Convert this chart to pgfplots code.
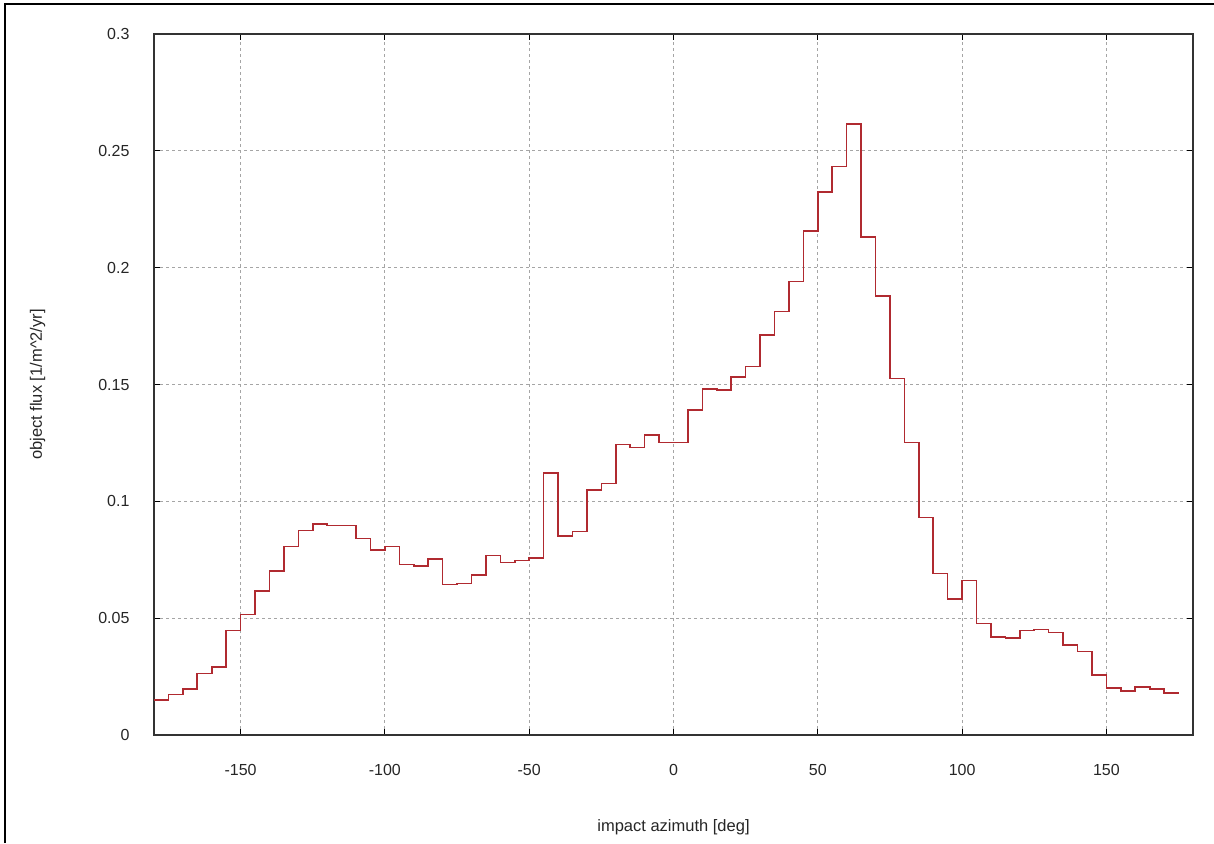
\documentclass[border=0pt]{standalone}
\usepackage{pgfplots}
\pgfplotsset{compat=1.18}
\usepackage{fontspec}
\setmainfont{Liberation Sans}

\definecolor{histred}{RGB}{176,42,48}
\definecolor{gridgray}{RGB}{165,165,165}

\begin{document}
\begin{tikzpicture}[x=1pt,y=1pt]
\useasboundingbox (0,0) rectangle (1214,843);
% frame along the top and left edges
\draw[line width=2.6pt,black] (5,0) -- (5,839) -- (1214,839);
\begin{axis}[
  at={(154pt,108pt)}, anchor=south west,
  width=1039pt, height=701pt, scale only axis,
  xmin=-180, xmax=180, ymin=0, ymax=0.3,
  xtick={-150,-100,-50,0,50,100,150},
  xticklabels={-150,-100,-50,0,50,100,150},
  ytick={0,0.05,0.1,0.15,0.2,0.25,0.3},
  yticklabels={0,0.05,0.1,0.15,0.2,0.25,0.3},
  tick align=inside, tick pos=both,
  major tick length=6pt,
  every tick/.style={black, line width=1.2pt},
  axis line style={black!80, line width=1.3pt},
  grid=major,
  major grid style={gridgray, line width=0.8pt, dash pattern=on 3pt off 3pt},
  tick label style={font=\fontsize{16}{19}\selectfont, text=black!85},
  xticklabel style={yshift=-26pt},
  yticklabel style={xshift=-21pt},
  label style={font=\fontsize{16.5}{19}\selectfont, text=black!85},
  xlabel={impact azimuth [deg]},
  xlabel style={at={(axis description cs:0.5,-0.131)}, anchor=center},
  ylabel={object flux [1/m\textasciicircum 2/yr]},
  ylabel style={at={(axis description cs:-0.112,0.5)}, anchor=center},
]
% object flux per 5 degree azimuth bin (left bin edge, flux)
\addplot[const plot, histred, line width=1.6pt] coordinates {
(-180,0.0149) (-175,0.0173) (-170,0.0196) (-165,0.0263) (-160,0.0290)
(-155,0.0448) (-150,0.0515) (-145,0.0615) (-140,0.0701) (-135,0.0806)
(-130,0.0875) (-125,0.0903) (-120,0.0896) (-115,0.0896) (-110,0.0841)
(-105,0.0791) (-100,0.0806) (-95,0.0729) (-90,0.0724) (-85,0.0752)
(-80,0.0644) (-75,0.0648) (-70,0.0684) (-65,0.0768) (-60,0.0739)
(-55,0.0747) (-50,0.0758) (-45,0.1122) (-40,0.0852) (-35,0.0871)
(-30,0.1049) (-25,0.1077) (-20,0.1244) (-15,0.1230) (-10,0.1284)
(-5,0.1252) (0,0.1252) (5,0.1391) (10,0.1481) (15,0.1477)
(20,0.1531) (25,0.1577) (30,0.1712) (35,0.1812) (40,0.1941)
(45,0.2156) (50,0.2324) (55,0.2433) (60,0.2614) (65,0.2132)
(70,0.1879) (75,0.1526) (80,0.1252) (85,0.0931) (90,0.0691)
(95,0.0582) (100,0.0661) (105,0.0477) (110,0.0420) (115,0.0414)
(120,0.0447) (125,0.0452) (130,0.0438) (135,0.0385) (140,0.0358)
(145,0.0257) (150,0.0201) (155,0.0188) (160,0.0205) (165,0.0196)
(170,0.0179) (175,0.0179)
};
\end{axis}
\end{tikzpicture}
\end{document}
